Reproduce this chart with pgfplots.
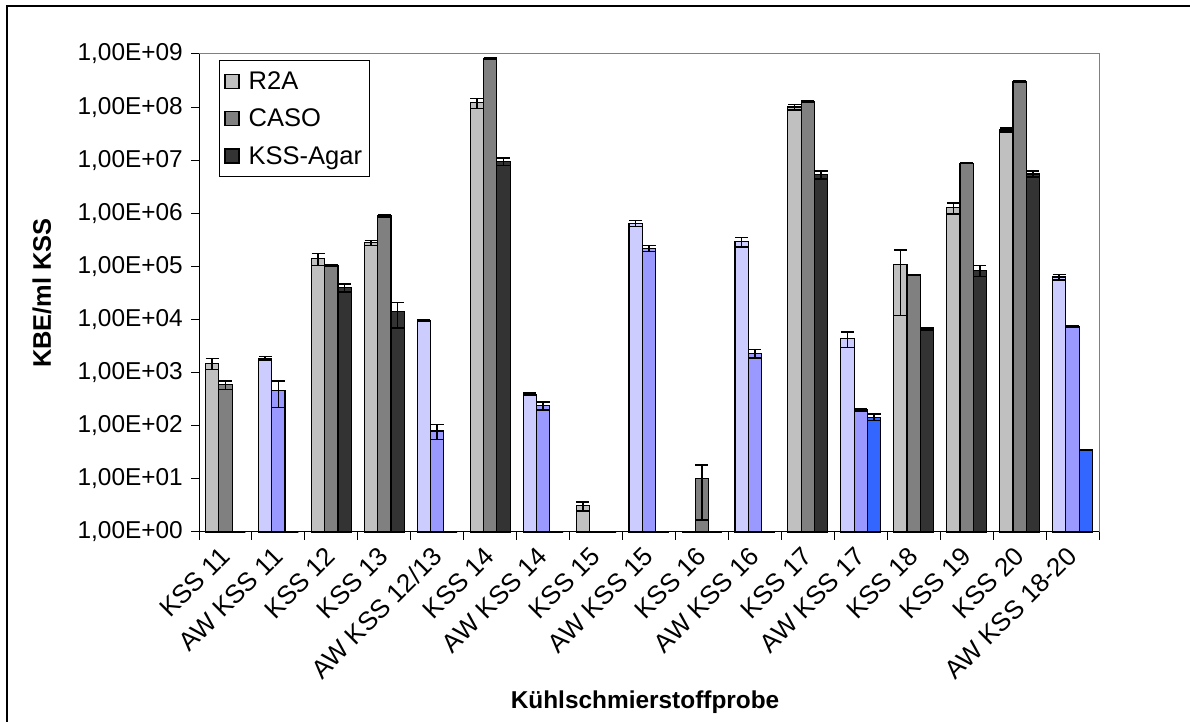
\documentclass[border=0pt]{standalone}
\usepackage{fontspec}
\setmainfont{Liberation Sans}
\usepackage{pgfplots}
\pgfplotsset{compat=1.18}
\usepackage{pgfplotstable}

\definecolor{gA}{RGB}{192,192,192}
\definecolor{gB}{RGB}{128,128,128}
\definecolor{gC}{RGB}{51,51,51}
\definecolor{bA}{RGB}{204,204,255}
\definecolor{bB}{RGB}{153,153,255}
\definecolor{bC}{RGB}{51,102,255}

% KSS samples (zero counts shown as 1 = baseline on the log axis)
\pgfplotstableread{
x r2a r2aerr caso casoerr kss ksserr
0 1500 350 590 110 1 0
2 140000 35000 105000 3000 40000 7000
3 280000 30000 890000 30000 14000 7000
5 1.2e8 2.5e7 8.2e8 2e7 9.5e6 1.5e6
7 3.1 0.6 1 0 1 0
9 1 0 10 8.3 1 0
11 1.0e8 1.2e7 1.27e8 3e6 5.3e6 9e5
13 107000 95000 69000 2000 6600 300
14 1.28e6 3e5 8.8e6 2e5 85000 20000
15 3.7e7 3e6 3.0e8 8e6 5.5e6 7e5
}\kss

% AW samples
\pgfplotstableread{
x r2a r2aerr caso casoerr kss ksserr
1 1870 130 460 240 1 0
4 9500 300 80 25 1 0
6 390 20 240 40 1 0
8 650000 80000 220000 30000 1 0
10 290000 60000 2300 400 1 0
12 4400 1400 198 12 145 20
16 63000 7000 7400 200 35 0.5
}\aw

\pgfplotsset{
  mybar/.style={ybar, bar width=0.2512, bar shift=0pt, draw=black, line width=1.2bp,
    /pgfplots/error bars/y dir=both, /pgfplots/error bars/y explicit,
    /pgfplots/error bars/error bar style={line width=1.5bp, black},
    /pgfplots/error bars/error mark options={rotate=90, mark size=6.5bp, line width=1.5bp, black}},
}
\newcommand{\lgf}{\fontsize{25.6}{29}\selectfont}

\begin{document}
\begin{tikzpicture}[x=1bp,y=1bp]
\useasboundingbox (0,0) rectangle (1190,722);
\draw[line width=1.3bp] (7,-5) -- (7,716) -- (1195,716);
\begin{axis}[
  at={(199bp,190bp)}, anchor=south west,
  scale only axis, width=900bp, height=478bp,
  clip=false,
  ymode=log, ymin=1, ymax=1e9,
  xmin=-0.5, xmax=16.5,
  axis x line*=bottom, axis y line*=left,
  axis line style={black, line width=1bp},
  tick align=outside,
  major tick length=8bp,
  tick style={black, line width=1bp},
  xtick={-0.5,0.5,1.5,2.5,3.5,4.5,5.5,6.5,7.5,8.5,9.5,10.5,11.5,12.5,13.5,14.5,15.5,16.5},
  xticklabels={},
  extra x ticks={0,1,2,3,4,5,6,7,8,9,10,11,12,13,14,15,16},
  extra x tick labels={KSS 11, AW KSS 11, KSS 12, KSS 13, AW KSS 12/13, KSS 14, AW KSS 14, KSS 15, AW KSS 15, KSS 16, AW KSS 16, KSS 17, AW KSS 17, KSS 18, KSS 19, KSS 20, AW KSS 18-20},
  extra x tick style={major tick length=0pt,
    xticklabel style={xshift=-7bp, yshift=-13bp, rotate=45, anchor=north east, inner sep=0pt, font=\fontsize{26}{30}\selectfont}},
  ytick={1,10,100,1000,1e4,1e5,1e6,1e7,1e8,1e9},
  yticklabels={{1,00E+00},{1,00E+01},{1,00E+02},{1,00E+03},{1,00E+04},{1,00E+05},{1,00E+06},{1,00E+07},{1,00E+08},{1,00E+09}},
  yminorticks=false,
  yticklabel shift=8bp,
  yticklabel style={anchor=east, inner sep=0pt, font=\fontsize{24.5}{28}\selectfont},
  ylabel={KBE/ml KSS},
  ylabel style={font=\bfseries\fontsize{25.5}{29}\selectfont, at={(axis description cs:-0.1744,0.5)}, anchor=center},
  xlabel={Kühlschmierstoffprobe},
  xlabel style={font=\bfseries\fontsize{24.5}{28}\selectfont, at={(axis description cs:0.4956,-0.3556)}, anchor=center},
  legend style={at={(axis description cs:0.0222,0.987)}, anchor=north west,
    draw=black, line width=1bp, fill=white, font=\lgf,
    inner xsep=5bp, inner ysep=9bp, row sep=14bp, column sep=7bp},
  legend cell align=left,
  legend image code/.code={\draw[#1, line width=1.2bp, draw=black] (0bp,-7bp) rectangle (14bp,7bp);},
]
\addplot[mybar, fill=gA] table[x expr=\thisrow{x}-0.2512, y=r2a, y error=r2aerr] {\kss};
\addlegendentry{\lgf R2A}
\addplot[mybar, fill=gB] table[x=x, y=caso, y error=casoerr] {\kss};
\addlegendentry{\lgf CASO}
\addplot[mybar, fill=gC] table[x expr=\thisrow{x}+0.2512, y=kss, y error=ksserr] {\kss};
\addlegendentry{\lgf KSS-Agar}
\addplot[mybar, fill=bA, forget plot] table[x expr=\thisrow{x}-0.2512, y=r2a, y error=r2aerr] {\aw};
\addplot[mybar, fill=bB, forget plot] table[x=x, y=caso, y error=casoerr] {\aw};
\addplot[mybar, fill=bC, forget plot] table[x expr=\thisrow{x}+0.2512, y=kss, y error=ksserr] {\aw};
\draw[gray, line width=1bp] (rel axis cs:0,1) -- (rel axis cs:1,1) -- (rel axis cs:1,0);
\end{axis}
\end{tikzpicture}
\end{document}
